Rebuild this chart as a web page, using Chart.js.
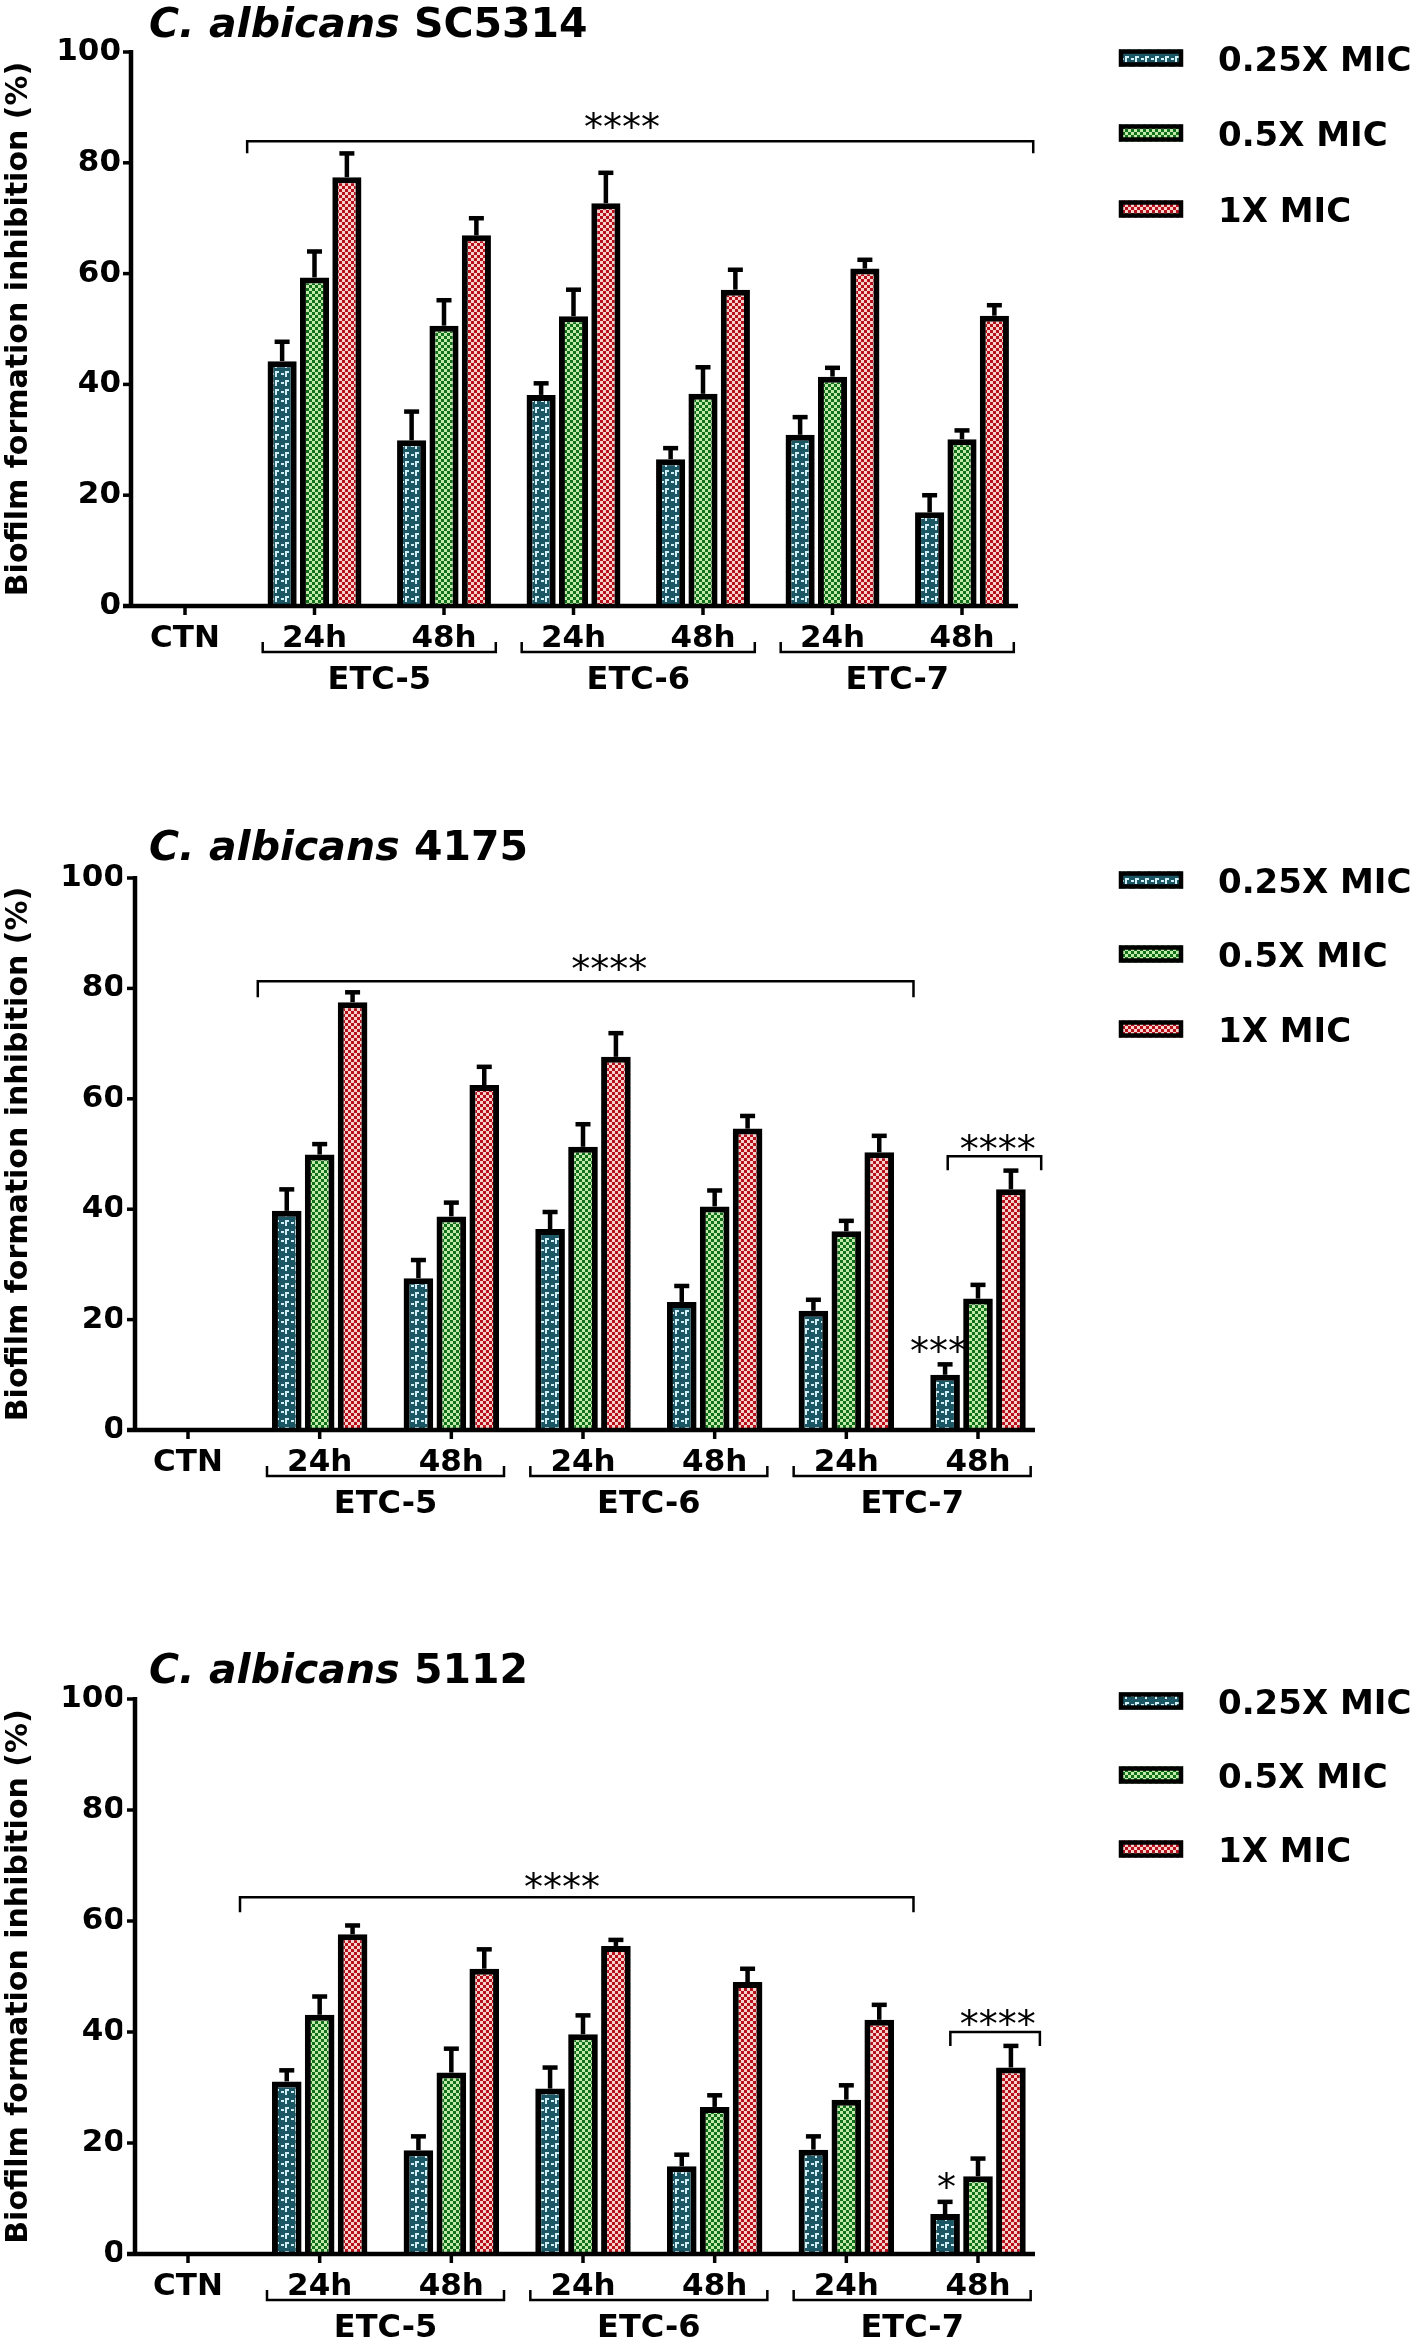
<!DOCTYPE html>
<html>
<head>
<meta charset="utf-8">
<script src="https://cdn.jsdelivr.net/npm/chart.js@4.4.1/dist/chart.umd.min.js"></script>
<style>
  html, body { margin: 0; padding: 0; background: #fff; }
  #wrap { position: relative; width: 1418px; height: 2342px; overflow: hidden; }
  #wrap canvas { position: absolute; left: 0; }
</style>
</head>
<body>
<div id="wrap">
  <canvas id="p1" width="1418" height="822" style="top:0px"></canvas>
  <canvas id="p2" width="1418" height="824" style="top:822px"></canvas>
  <canvas id="p3" width="1418" height="696" style="top:1646px"></canvas>
</div>
<script>
const categories = ['CTN', '24h', '48h', '24h', '48h', '24h', '48h'];
const groupNames = ['ETC-5', 'ETC-6', 'ETC-7'];
const seriesNames = ['0.25X MIC', '0.5X MIC', '1X MIC'];
const yTicks = [0, 20, 40, 60, 80, 100];
const yAxisTitle = 'Biofilm formation inhibition (%)';

// C. albicans SC5314
const sc5314Quarter = [null, 44.2, 29.9, 38.1, 26.5, 30.9, 16.9];
const sc5314QuarterErr = [null, 3.9, 5.6, 2.5, 2.4, 3.6, 3.5];
const sc5314Half = [null, 59.3, 50.6, 52.3, 38.3, 41.4, 30.1];
const sc5314HalfErr = [null, 5.1, 5.0, 5.2, 5.2, 2.0, 2.0];
const sc5314Full = [null, 77.4, 66.9, 72.7, 57.1, 60.9, 52.4];
const sc5314FullErr = [null, 4.7, 3.5, 5.9, 4.0, 2.0, 2.3];

// C. albicans 4175
const c4175Quarter = [null, 39.7, 27.5, 36.4, 23.2, 21.6, 10.0];
const c4175QuarterErr = [null, 4.3, 3.7, 3.5, 3.3, 2.4, 2.3];
const c4175Half = [null, 49.9, 38.7, 51.3, 40.5, 36.0, 23.8];
const c4175HalfErr = [null, 2.3, 2.9, 4.5, 3.3, 2.3, 2.9];
const c4175Full = [null, 77.5, 62.5, 67.6, 54.6, 50.3, 43.6];
const c4175FullErr = [null, 2.2, 3.7, 4.7, 2.7, 3.4, 3.8];

// C. albicans 5112
const c5112Quarter = [null, 31.1, 18.7, 29.8, 15.8, 18.8, 7.2];
const c5112QuarterErr = [null, 2.4, 2.9, 4.2, 2.5, 2.8, 2.6];
const c5112Half = [null, 43.1, 32.7, 39.6, 26.5, 27.8, 14.0];
const c5112HalfErr = [null, 3.7, 4.7, 3.8, 2.5, 3.0, 3.6];
const c5112Full = [null, 57.6, 51.4, 55.5, 49.0, 42.2, 33.6];
const c5112FullErr = [null, 2.0, 3.9, 1.5, 2.8, 3.1, 4.3];

const FONT = '"DejaVu Sans", Verdana, sans-serif';

// --- fill patterns ---
function tile(w, h, draw) {
  const c = document.createElement('canvas');
  c.width = w; c.height = h;
  draw(c.getContext('2d'));
  return c.getContext('2d').createPattern(c, 'repeat');
}
function checker(dark, light) {
  return tile(6, 6, g => {
    g.fillStyle = light; g.fillRect(0, 0, 6, 6);
    g.fillStyle = dark; g.fillRect(0, 0, 3, 3); g.fillRect(3, 3, 3, 3);
  });
}
const fills = [
  tile(10, 9, g => {
    g.fillStyle = '#1b5664'; g.fillRect(0, 0, 10, 9);
    g.fillStyle = '#d2eff5';
    g.fillRect(1, 4, 3, 2); g.fillRect(5, 2, 2, 6); g.fillRect(5, 2, 4, 2);
  }),
  checker('#12701c', '#bfeaa8'),
  checker('#b8101b', '#f6d2cd')
];

// --- everything that is not a bar ---
function makeFrame(cfg) {
  return {
    id: 'frame',
    afterDatasetsDraw(chart) {
      const { ctx, scales: { x, y } } = chart;
      const y0 = y.getPixelForValue(0), yTop = y.getPixelForValue(100);
      const band = x.getPixelForValue(1) - x.getPixelForValue(0);
      const line = (pts, w) => {
        ctx.lineWidth = w; ctx.beginPath();
        pts.forEach((p, i) => i ? ctx.lineTo(p[0], p[1]) : ctx.moveTo(p[0], p[1]));
        ctx.stroke();
      };
      ctx.save();
      ctx.strokeStyle = '#000'; ctx.fillStyle = '#000'; ctx.lineCap = 'butt';

      // error bars (upper only)
      chart.data.datasets.forEach((ds, k) => {
        chart.getDatasetMeta(k).data.forEach((bar, j) => {
          const v = ds.data[j];
          if (v == null) return;
          const top = y.getPixelForValue(v + cfg.errors[k][j]);
          line([[bar.x, bar.y], [bar.x, top + 2]], 4.5);
          ctx.fillRect(bar.x - 7.5, top, 15, 4.5);
        });
      });

      // axes
      line([[cfg.axisX, yTop - 2], [cfg.axisX, y0 + 2]], 4.5);
      line([[cfg.axisX - 8, y0], [cfg.axisEnd, y0]], 4.5);
      yTicks.forEach(v => { const p = y.getPixelForValue(v); line([[cfg.axisX - 8, p], [cfg.axisX, p]], 3.5); });
      categories.forEach((c, i) => { const p = x.getPixelForValue(i); line([[p, y0], [p, y0 + 9]], 3.5); });

      // group brackets under the axis
      ctx.font = 'bold 32px ' + FONT; ctx.textAlign = 'center'; ctx.textBaseline = 'alphabetic';
      groupNames.forEach((g, n) => {
        const a = x.getPixelForValue(1 + 2 * n) - 0.4 * band;
        const b = x.getPixelForValue(2 + 2 * n) + 0.4 * band;
        const ly = y0 + 46;
        line([[a, ly - 10], [a, ly], [b, ly], [b, ly - 10]], 2.5);
        ctx.fillText(g, (a + b) / 2, y0 + 83);
      });

      // significance brackets and stars
      ctx.font = '38px ' + FONT;
      cfg.sig.forEach(s => {
        const a = x.getPixelForValue(s.from), b = x.getPixelForValue(s.to), ly = y.getPixelForValue(s.at);
        line([[a, ly + s.drop], [a, ly], [b, ly], [b, ly + s.drop]], 2.5);
        ctx.fillText(s.stars, x.getPixelForValue(s.sx), y.getPixelForValue(s.sy) + 20);
      });
      cfg.marks.forEach(m => ctx.fillText(m.text, x.getPixelForValue(m.x), y.getPixelForValue(m.y) + 20));

      // panel title
      ctx.textAlign = 'left';
      ctx.font = 'italic bold 41px ' + FONT;
      ctx.fillText('C. albicans', 149, cfg.titleBase);
      const w = ctx.measureText('C. albicans ').width;
      ctx.font = 'bold 41px ' + FONT;
      ctx.fillText(cfg.tag, 149 + w, cfg.titleBase);

      // legend
      ctx.font = 'bold 34px ' + FONT;
      seriesNames.forEach((name, k) => {
        const cy = cfg.legendY[k];
        ctx.fillStyle = fills[k]; ctx.fillRect(1119, cy - 8.5, 64, 17);
        ctx.lineWidth = 4.5; ctx.strokeRect(1121, cy - 6.5, 60, 13);
        ctx.fillStyle = '#000';
        ctx.fillText(name, 1218, cy + 12.5);
      });
      ctx.restore();
    }
  };
}

function makePanel(id, cfg) {
  const h = document.getElementById(id).height;
  return new Chart(document.getElementById(id), {
    type: 'bar',
    data: {
      labels: categories,
      datasets: cfg.series.map((vals, k) => ({
        label: seriesNames[k], data: vals,
        backgroundColor: fills[k], borderColor: '#000', borderWidth: 6, borderSkipped: 'start',
        categoryPercentage: 0.75, barPercentage: 0.9
      }))
    },
    options: {
      responsive: false, animation: false,
      layout: { padding: { left: 0, top: cfg.top, right: 1418 - cfg.right, bottom: h - cfg.bottom - 60 } },
      plugins: { legend: { display: false }, tooltip: { enabled: false } },
      scales: {
        x: {
          grid: { display: false, drawTicks: false }, border: { display: false },
          ticks: { color: '#000', font: { family: FONT, size: 31, weight: 'bold' }, padding: 14, maxRotation: 0, autoSkip: false },
          afterFit: s => { s.height = 60; }
        },
        y: {
          min: 0, max: 100,
          grid: { display: false, drawTicks: false }, border: { display: false },
          afterBuildTicks: s => { s.ticks = yTicks.map(v => ({ value: v })); },
          ticks: { color: '#000', font: { family: FONT, size: 31, weight: 'bold' }, padding: cfg.left - (cfg.axisX - 10) },
          title: { display: true, text: yAxisTitle, color: '#000', font: { family: FONT, size: 30, weight: 'bold' }, padding: { top: 1, bottom: 0 } },
          afterFit: s => { s.width = cfg.left; }
        }
      }
    },
    plugins: [makeFrame(cfg)]
  });
}

makePanel('p1', {
  tag: 'SC5314', titleBase: 37, legendY: [58, 133, 209],
  top: 52, bottom: 606, left: 120.25, right: 1026.75, axisX: 131, axisEnd: 1018,
  series: [sc5314Quarter, sc5314Half, sc5314Full],
  errors: [sc5314QuarterErr, sc5314HalfErr, sc5314FullErr],
  sig: [{ from: 0.48, to: 6.55, at: 83.9, drop: 12, stars: '****', sx: 3.375, sy: 87.8 }],
  marks: []
});
makePanel('p2', {
  tag: '4175', titleBase: 38, legendY: [58, 132, 207],
  top: 56, bottom: 608, left: 122.17, right: 1043.83, axisX: 135, axisEnd: 1035,
  series: [c4175Quarter, c4175Half, c4175Full],
  errors: [c4175QuarterErr, c4175HalfErr, c4175FullErr],
  sig: [
    { from: 0.53, to: 5.51, at: 81.3, drop: 16, stars: '****', sx: 3.2, sy: 84.8 },
    { from: 5.77, to: 6.48, at: 49.6, drop: 14, stars: '****', sx: 6.15, sy: 52.2 }
  ],
  marks: [{ text: '***', x: 5.70, y: 15.6 }]
});
makePanel('p3', {
  tag: '5112', titleBase: 37, legendY: [55, 129, 203],
  top: 53, bottom: 608, left: 122.17, right: 1043.83, axisX: 135, axisEnd: 1035,
  series: [c5112Quarter, c5112Half, c5112Full],
  errors: [c5112QuarterErr, c5112HalfErr, c5112FullErr],
  sig: [
    { from: 0.395, to: 5.51, at: 64.3, drop: 15, stars: '****', sx: 2.84, sy: 67.4 },
    { from: 5.79, to: 6.47, at: 40.0, drop: 14, stars: '****', sx: 6.15, sy: 42.7 }
  ],
  marks: [{ text: '*', x: 5.76, y: 13.3 }]
});
</script>
</body>
</html>
